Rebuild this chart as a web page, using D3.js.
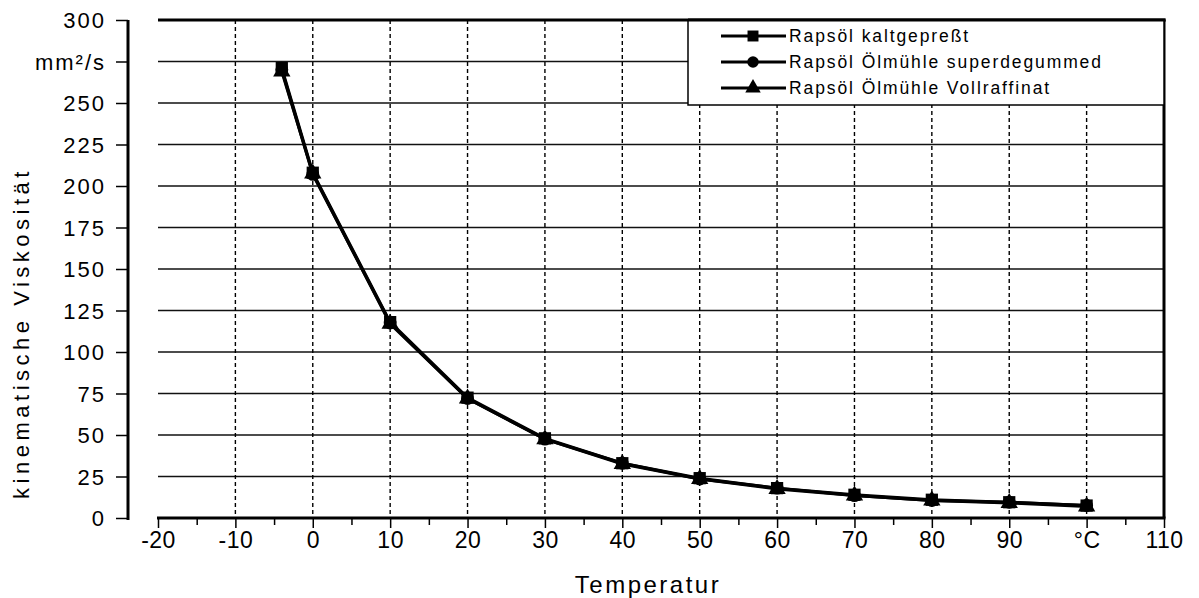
<!DOCTYPE html>
<html lang="de">
<head>
    <meta charset="utf-8">
    <title>Viskosität Rapsöl</title>
    <script src="https://d3js.org/d3.v7.min.js"></script>
    <style>
        body { margin: 0; background: #fff; }
        svg { display: block; font-family: "Liberation Sans", Arial, sans-serif; }
    </style>
</head>
<body>
<svg width="1199" height="598"></svg>
<script>
    // Daten
    var temperatures = [-4, 0, 10, 20, 30, 40, 50, 60, 70, 80, 90, 100];
    var kaltgepresst   = [271, 208, 118, 72.5, 48, 33, 24, 18, 14, 11, 9.5, 7.5];
    var superdegummed  = [270, 207, 117.5, 72, 47.5, 33, 23.5, 18, 13.5, 10.5, 9.5, 7.5];
    var vollraffinat   = [269, 207.5, 117, 72, 47.5, 32.5, 23.5, 17.5, 13.5, 10.5, 9, 7];
    var seriesNames = ["Rapsöl kaltgepreßt", "Rapsöl Ölmühle superdegummed", "Rapsöl Ölmühle Vollraffinat"];
    var xTickValues = [-20, -10, 0, 10, 20, 30, 40, 50, 60, 70, 80, 90, 100, 110];
    var xTickLabels = ["-20", "-10", "0", "10", "20", "30", "40", "50", "60", "70", "80", "90", "°C", "110"];
    var yTickValues = [0, 25, 50, 75, 100, 125, 150, 175, 200, 225, 250, 275, 300];
    var yTickLabels = ["0", "25", "50", "75", "100", "125", "150", "175", "200", "225", "250", "mm²/s", "300"];

    var svg = d3.select("svg");
    var plot = {left: 158, right: 1164, top: 20, bottom: 518};
    var yAxisX = 128;

    var x = d3.scaleLinear().domain([-20, 110]).range([plot.left, plot.right]);
    var y = d3.scaleLinear().domain([0, 300]).range([plot.bottom, plot.top]);

    // horizontale Gitterlinien
    svg.append("g").selectAll("line")
        .data(yTickValues.filter(function(d){ return d > 0 && d < 300; }))
        .enter().append("line")
        .attr("x1", plot.left).attr("x2", plot.right)
        .attr("y1", function(d){ return y(d); })
        .attr("y2", function(d){ return y(d); })
        .attr("stroke", "#111").attr("stroke-width", 1.4);

    // vertikale gestrichelte Linien
    svg.append("g").selectAll("line")
        .data(xTickValues.filter(function(d){ return d > -20 && d < 110; }))
        .enter().append("line")
        .attr("x1", function(d){ return x(d); })
        .attr("x2", function(d){ return x(d); })
        .attr("y1", plot.top).attr("y2", plot.bottom)
        .attr("stroke", "#000").attr("stroke-width", 1.4)
        .attr("stroke-dasharray", "4,3");

    // Rahmen oben und rechts
    svg.append("line")
        .attr("x1", plot.left).attr("x2", plot.right + 1.5)
        .attr("y1", plot.top).attr("y2", plot.top)
        .attr("stroke", "#000").attr("stroke-width", 3);
    svg.append("line")
        .attr("x1", plot.right).attr("x2", plot.right)
        .attr("y1", plot.top).attr("y2", plot.bottom)
        .attr("stroke", "#000").attr("stroke-width", 3);

    // y-Achse (abgesetzt)
    var yAxis = d3.axisLeft(y)
        .tickValues(yTickValues)
        .tickSize(12)
        .tickPadding(0)
        .tickFormat(function(d, i){ return yTickLabels[i]; });
    var gy = svg.append("g")
        .attr("transform", "translate(" + yAxisX + ",0)")
        .call(yAxis);
    gy.select(".domain").remove();
    gy.append("line")
        .attr("x1", 0).attr("x2", 0)
        .attr("y1", plot.top).attr("y2", plot.bottom + 2)
        .attr("stroke", "#000").attr("stroke-width", 3);
    gy.selectAll(".tick line").attr("stroke", "#000").attr("stroke-width", 1.5);
    gy.selectAll(".tick text")
        .attr("x", -22)
        .attr("dy", "0.36em")
        .attr("fill", "#000")
        .style("font-size", "22px")
        .style("letter-spacing", "2px")
        .style("font-family", "'Liberation Sans', Arial, sans-serif");

    // x-Achse
    var xAxis = d3.axisBottom(x)
        .tickValues(xTickValues)
        .tickSize(10)
        .tickPadding(4)
        .tickFormat(function(d, i){ return xTickLabels[i]; });
    var gx = svg.append("g")
        .attr("transform", "translate(0," + plot.bottom + ")")
        .call(xAxis);
    gx.select(".domain").remove();
    gx.append("line")
        .attr("x1", plot.left - 1).attr("x2", plot.right + 1.5)
        .attr("y1", 0).attr("y2", 0)
        .attr("stroke", "#000").attr("stroke-width", 3);
    gx.selectAll(".tick line").attr("stroke", "#000").attr("stroke-width", 1.5);
    gx.selectAll(".tick text")
        .attr("fill", "#000")
        .style("font-size", "23px")
        .style("letter-spacing", "0.5px")
        .style("font-family", "'Liberation Sans', Arial, sans-serif");

    // Zwischenstriche
    var minorX = d3.axisBottom(x)
        .tickValues(d3.range(-15, 110, 10))
        .tickSize(7)
        .tickFormat("");
    var gm = svg.append("g")
        .attr("transform", "translate(0," + plot.bottom + ")")
        .call(minorX);
    gm.select(".domain").remove();
    gm.selectAll(".tick line").attr("stroke", "#000").attr("stroke-width", 1.5);

    // Achsentitel
    svg.append("text")
        .attr("x", 648).attr("y", 593)
        .attr("text-anchor", "middle")
        .style("font-size", "24px")
        .style("letter-spacing", "2.5px")
        .text("Temperatur");

    svg.append("text")
        .attr("transform", "translate(29,333) rotate(-90)")
        .attr("text-anchor", "middle")
        .style("font-size", "22px")
        .style("letter-spacing", "4.5px")
        .text("kinematische Viskosität");

    // Datenreihen
    var seriesValues = [kaltgepresst, superdegummed, vollraffinat];
    var symbols = [d3.symbolSquare, d3.symbolCircle, d3.symbolTriangle];
    var symbolSizes = [150, 130, 130];

    var line = d3.line()
        .x(function(d){ return x(d[0]); })
        .y(function(d){ return y(d[1]); });

    seriesValues.forEach(function(vals, s){
        var pts = temperatures.map(function(t, i){ return [t, vals[i]]; });
        svg.append("path")
            .datum(pts)
            .attr("d", line)
            .attr("fill", "none")
            .attr("stroke", "#000")
            .attr("stroke-width", 3);
        svg.append("g").selectAll("path")
            .data(pts)
            .enter().append("path")
            .attr("d", d3.symbol().type(symbols[s]).size(symbolSizes[s]))
            .attr("transform", function(d){ return "translate(" + x(d[0]) + "," + y(d[1]) + ")"; })
            .attr("fill", "#000");
    });

    // Legende
    var legend = svg.append("g");
    legend.append("rect")
        .attr("x", 688).attr("y", plot.top)
        .attr("width", plot.right - 688).attr("height", 85)
        .attr("fill", "#fff")
        .attr("stroke", "#000").attr("stroke-width", 1.5);
    legend.append("line")
        .attr("x1", 688).attr("x2", plot.right + 1.5)
        .attr("y1", plot.top).attr("y2", plot.top)
        .attr("stroke", "#000").attr("stroke-width", 3);
    var rows = legend.selectAll(".row")
        .data(seriesNames)
        .enter().append("g")
        .attr("transform", function(d, i){ return "translate(0," + (36 + i * 26) + ")"; });
    rows.append("line")
        .attr("x1", 721).attr("x2", 786)
        .attr("stroke", "#000").attr("stroke-width", 3);
    rows.append("path")
        .attr("d", function(d, i){ return d3.symbol().type(symbols[i]).size(symbolSizes[i] * 0.8)(); })
        .attr("transform", "translate(753,0)")
        .attr("fill", "#000");
    rows.append("text")
        .attr("x", 789).attr("dy", "0.36em")
        .style("font-size", "17.5px")
        .style("letter-spacing", "1.9px")
        .text(function(d){ return d; });
</script>
</body>
</html>
